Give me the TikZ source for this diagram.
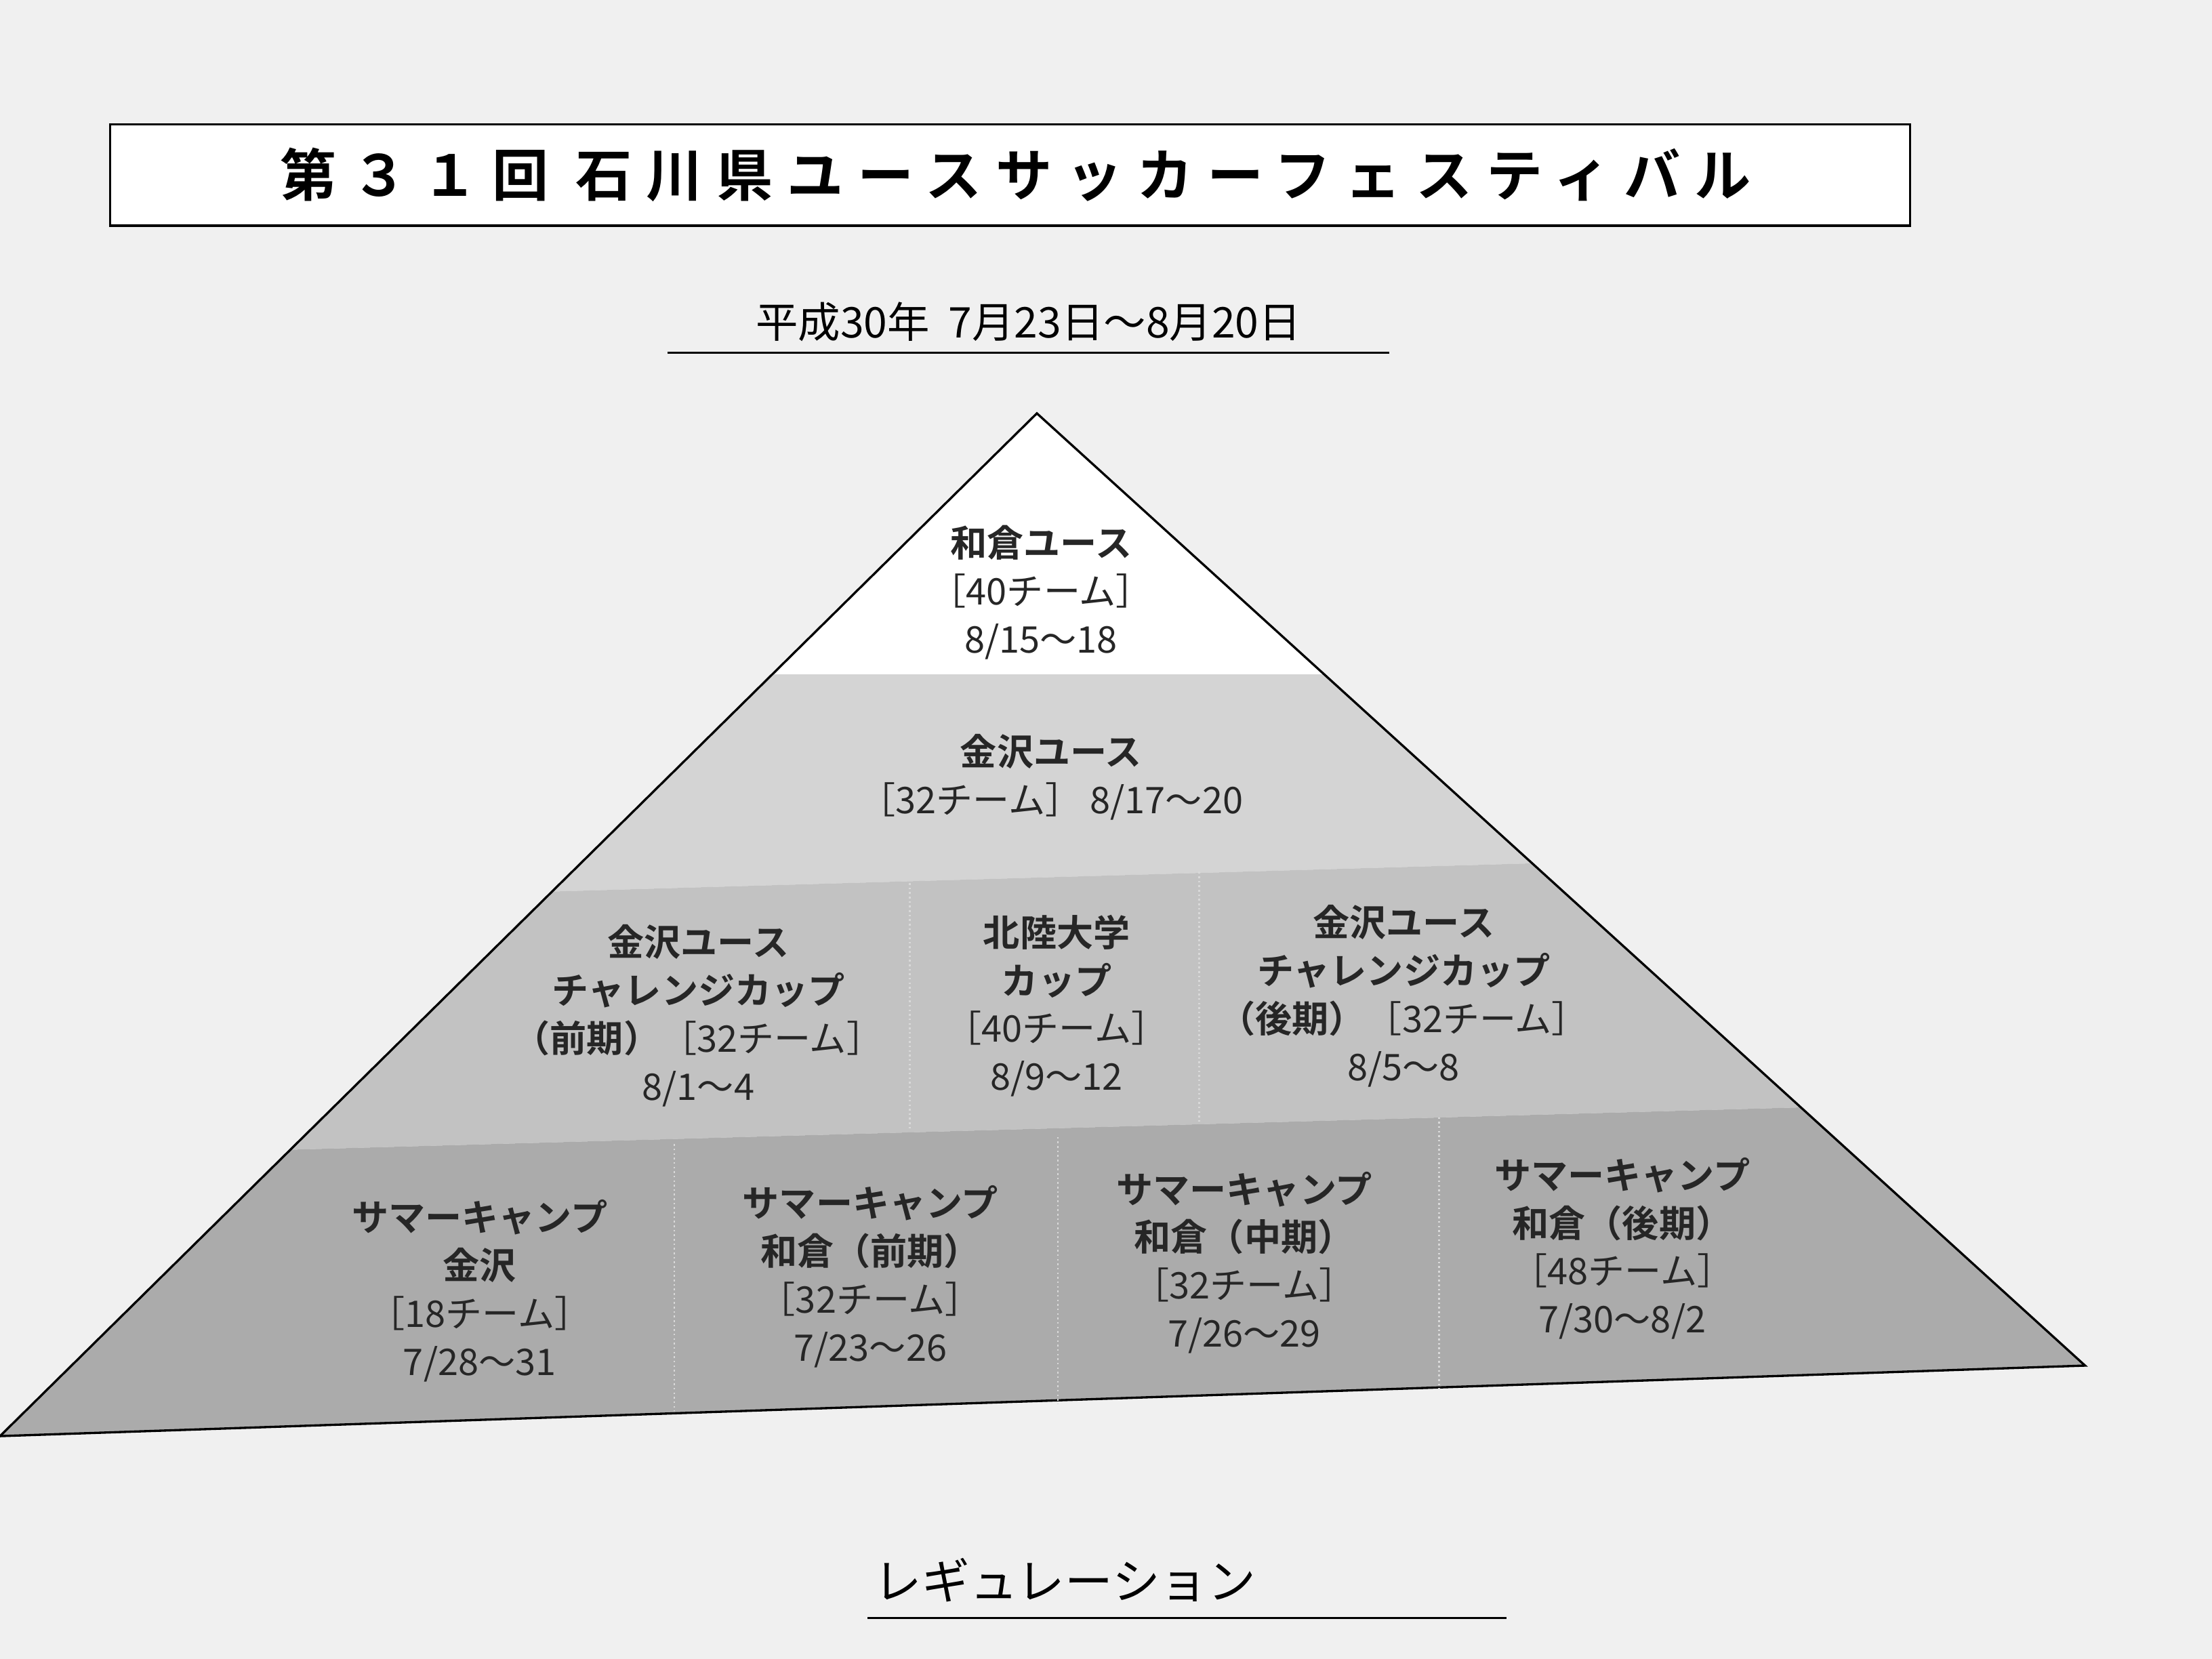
\documentclass[tikz,border=0pt]{standalone}
\usepackage{fontspec}
\setmainfont{Noto Sans CJK JP}
\newfontfamily\jpb{Noto Sans CJK JP Bold}
\newfontfamily\jpt[LetterSpace=25]{Noto Sans CJK JP Bold}
\newcommand{\wv}{～}
\begin{document}
\begin{tikzpicture}[x=0.5pt,y=-0.5pt,
  lbl/.style={align=center,font=\fontsize{13}{17}\selectfont,text=black!85},
  div/.style={white!85!black,densely dotted,line width=0.6pt}]
\fill[black!6] (0,0) rectangle (1568,1176);
\useasboundingbox (0,0) rectangle (1568,1176);
% title
\node[draw,line width=0.8pt,fill=white,minimum width=638pt,minimum height=36pt] (title) at (716,124) {};
\node[font=\jpt\fontsize{20}{22}\selectfont] (ttext) at (720,124) {第３１回\ 石川県ユースサッカーフェスティバル};
\node[font=\fontsize{15}{17}\selectfont] (date) at (729,228) {平成30年\ \ 7月23日\wv 8月20日};
\coordinate (u1) at (473,250); \coordinate (u2) at (985,250);
\draw[line width=0.6pt] (u1) -- (u2);
% pyramid bands
\coordinate (A) at (735,293);
\coordinate (L1) at (547,478); \coordinate (R1) at (939,478);
\coordinate (L2) at (391,632); \coordinate (R2) at (1086,612);
\coordinate (L3) at (206,815); \coordinate (R3) at (1276,785);
\coordinate (L4) at (0,1018); \coordinate (R4) at (1478,968);
\fill[white] (A) -- (L1) -- (R1) -- cycle;
\fill[black!17] (L1) -- (R1) -- (R2) -- (L2) -- cycle;
\fill[black!24] (L2) -- (R2) -- (R3) -- (L3) -- cycle;
\fill[black!33] (L3) -- (R3) -- (R4) -- (L4) -- cycle;
\draw[line width=0.8pt] (A) -- (L4) -- (R4) -- cycle;
\draw[div] (645,626) -- (645,800);
\draw[div] (850,618) -- (850,795);
\draw[div] (478,811) -- (478,1000);
\draw[div] (750,806) -- (750,995);
\draw[div] (1020,792) -- (1020,985);
% labels
\node[lbl] (n1) at (738,420) {{\jpb 和倉ユース}\\［40チーム］\\8/15\wv 18};
\node[lbl] (n2) at (745,551) {{\jpb 金沢ユース}\\［32チーム］\ 8/17\wv 20};
\node[lbl] (n3) at (495,720) {{\jpb 金沢ユース}\\{\jpb チャレンジカップ}\\{\jpb （前期）}［32チーム］\\8/1\wv 4};
\node[lbl] (n4) at (749,713) {{\jpb 北陸大学}\\{\jpb カップ}\\［40チーム］\\8/9\wv 12};
\node[lbl] (n5) at (995,706) {{\jpb 金沢ユース}\\{\jpb チャレンジカップ}\\{\jpb （後期）}［32チーム］\\8/5\wv 8};
\node[lbl] (n6) at (340,915) {{\jpb サマーキャンプ}\\{\jpb 金沢}\\［18チーム］\\7/28\wv 31};
\node[lbl] (n7) at (617,905) {{\jpb サマーキャンプ}\\{\jpb 和倉（前期）}\\［32チーム］\\7/23\wv 26};
\node[lbl] (n8) at (882,895) {{\jpb サマーキャンプ}\\{\jpb 和倉（中期）}\\［32チーム］\\7/26\wv 29};
\node[lbl] (n9) at (1150,885) {{\jpb サマーキャンプ}\\{\jpb 和倉（後期）}\\［48チーム］\\7/30\wv 8/2};
% bottom
\node[font=\fontsize{17}{19}\selectfont] (reg) at (755,1120) {レギュレーション};
\coordinate (v1) at (615,1147); \coordinate (v2) at (1068,1147);
\draw[line width=0.6pt] (v1) -- (v2);
\end{tikzpicture}
\end{document}
